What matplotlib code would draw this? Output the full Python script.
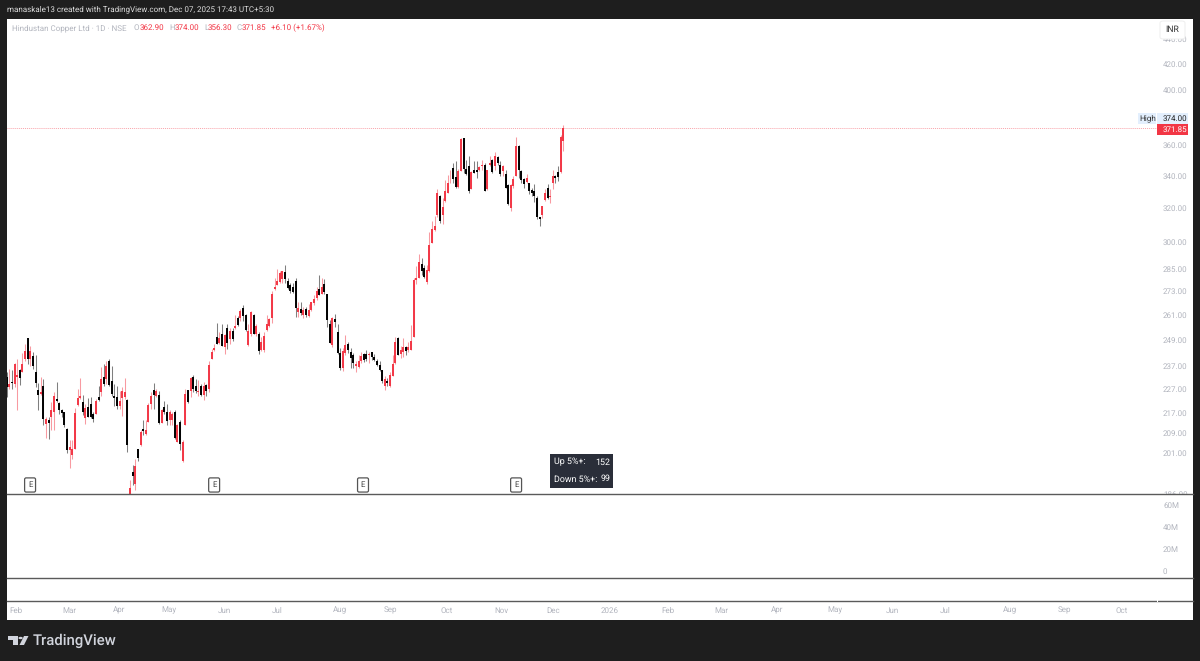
import numpy as np
import matplotlib
matplotlib.use("Agg")
import matplotlib.pyplot as plt
from matplotlib.patches import Rectangle, FancyBboxPatch, Polygon, Circle

plt.rcParams['font.family'] = ['Roboto', 'DejaVu Sans']
plt.rcParams['text.hinting'] = 'no_hinting'
plt.rcParams['text.hinting_factor'] = 8

opens = [232,227.7,230.1,229.1,232,235.4,234.5,240,249.8,240,241.5,234.5,226.7,224.7,228.4,212.4,213.8,215.1,217.2,222.7,221,
217.9,217.2,210.4,202,200.1,202.7,220.2,223.1,221.3,214.7,219.3,220.6,216.5,216.5,223.4,225.5,232,231.3,239.5,230.6,
224.1,223.7,219.6,223.1,223.4,222.4,182,194,189.7,202.4,204,210.4,208.3,213.1,220.6,226.7,224.1,224.4,212.9,219.3,
217.2,213.8,213.8,217.2,205.4,213.1,197.9,212,226.5,226.2,232,228,225.5,228,224.5,228.7,227,240.3,244.3,250.2,
247.5,251.8,245.5,254.8,249.5,253.4,254.8,259.8,259.8,264.3,260.9,246.7,251.8,260.9,251.8,251.8,244.3,244.3,253.7,255.5,
259.5,274.2,276.2,278,279.4,283.3,278.5,276.2,275.2,278.5,262.7,264,261.1,264,260.7,263.5,266.9,269.4,274.4,271.9,
276.7,271.6,256.5,246.7,258.9,253,242.9,236.1,242.9,247,243.3,242.1,236.8,236.4,239.4,242.4,242.4,241.8,243.3,241.2,
239.4,237.6,235.1,228.4,230.3,228.1,232.4,238.3,250.1,242.4,243.6,245.5,244.4,244.4,250.6,278.9,280.2,287.3,285.5,278,
283.6,299.3,306.9,315.4,327.1,315.4,324.1,329.2,338.2,344.9,339.2,332.7,342.7,365,344.2,346,331.6,343.8,343.4,343.4,
346,347.1,331.2,347.1,349.8,346,352.2,347.1,342.7,341.1,333.7,319.4,333.3,339.9,359.7,342.7,337.9,335.8,335,330.8,
330.2,326.1,314,315.4,324.5,332.2,326.5,335.4,339.6,342,342,362.9]
highs = [234.2,235.7,235.4,238.4,240.2,235.7,243,247,249.8,246,243.3,241.8,229.5,232,231.3,215.1,215.1,221.3,225.5,229.8,221.6,
218.6,217.4,210.7,205.9,205.9,218.8,227,231.6,224.5,220.6,223,223.7,217.2,222.7,228,236.4,238,239.5,240.2,237.2,
229.1,228.4,226.2,227.7,231.6,222.7,190.9,196.6,198.9,202.7,209.8,213.8,213.8,221,225.5,229.4,227,225.9,218.6,222,
220.6,218.2,217.2,217.9,212.4,213.8,205.9,227,226.7,232,233,231.3,231,229.1,229.8,229.1,239.5,244.8,247.2,257.1,
252.6,256.6,251.8,256.6,254.8,254.8,260.9,260.6,263.9,266,261.4,256.6,263.1,261.4,256.6,252.6,250.2,252.6,260.9,259.8,
273.3,280.2,285,283.7,283.7,286.8,280.2,277.6,277.6,280,267.7,267.7,265.2,265.2,266.4,267.7,271,275.3,281.5,279.8,
279.4,271.6,258.6,260.2,261.5,256.5,245.2,245.2,251.4,248.2,245.2,242.9,239.1,241.8,243.6,242.9,244.4,243.2,243.6,242.4,
240.3,239.4,235.4,232.4,231.7,234.3,241.8,250.6,250.6,246,250.1,246,248.2,256.2,280,286.5,293.2,291,286.8,286.8,
305.7,312,314.6,331.3,327.5,326.1,337,340,343.8,348.2,349.4,344.2,365,365,350.4,353.1,342.7,349.4,349.4,346,
350.4,347.8,343.8,352.7,350.9,355.4,352.7,349.4,347.1,343.8,334.3,334.3,339.6,365.6,360.3,343.8,338.6,341.1,335.4,332.2,
334.3,327.1,314.4,321.1,331.6,334.3,331.2,343.8,340.5,346,367.2,374]
lows = [223.4,227,227,227.7,218.2,228.7,234.2,239.5,238,237.2,235.7,227.7,217.9,224.4,211.8,206.7,206.5,209.8,209.8,221.3,216.5,
215.1,211.1,201.1,195.5,198.7,202.4,219.9,222.7,216.1,212.4,215.1,214.7,213.1,216.5,222,224.1,228.4,229.1,228,224.1,
219.9,218.6,218.6,215.8,222.7,201.4,180,189.2,187.4,197.9,203.6,207.8,208.1,213.1,218.6,218.3,223.4,212.4,212.9,216.5,
211.8,212,211.8,206.5,205.1,202,197.7,211.8,221,223.4,225.5,225.2,224.1,224.1,222.4,224.1,225.5,240,244,246.9,
247.2,246.4,242.5,244.8,247,248.6,254.2,255.9,258.2,258.2,253.4,246.4,251,251.8,251,242.5,244,243.5,253.4,255,
257,273.8,276.2,277.6,277.6,277.6,274.1,272.4,272,260.2,260.2,261.1,259.4,260.2,259.9,263,266,268.5,271,271.9,
271.9,255.4,247.5,245.5,255.4,242.4,235.4,234.6,242.1,242.9,236.1,236.1,234.3,236.1,238.3,238.8,239.1,238.3,239.9,239.1,
236.8,234.6,229.5,226.6,228.1,227.7,232.4,237.9,241.8,240.6,241.3,241.8,243.6,244.4,250.6,277,279.8,281.5,279.8,277,
283.2,299.3,306.3,314,311,310,323.1,329.2,335.4,335.4,332.2,332.2,342.7,341.6,340.5,329.2,331.2,341.6,338.6,342.7,
343.8,330.2,330.8,346,341.6,343.8,347.1,339.6,339.6,332.2,321.5,318,332.2,339.9,338.6,335.4,332.2,335.4,328.2,327.1,
323.5,313,309.2,313.4,324.1,325.1,322.5,331.6,335.4,336.3,341.6,356.3]
closes = [227.7,229.1,229.4,238,233,231.7,238,244,240,244,237.2,229.5,224.2,225.6,214.2,214.4,212.9,218,224.1,221.9,217.9,
216.9,212,202,203.3,202.4,216.9,223.1,223.8,217.2,218.9,215.1,215.1,214.4,222,222.3,231.3,229.1,237.2,228.7,224.8,
223.1,219.9,222,225.9,225.5,204,188,192.4,196.1,199.1,209.1,209.4,210,220.3,224.1,224.4,226.2,212.9,217.9,217.2,
213.4,217.2,216.5,206.7,211.8,204.3,205.1,224.8,221.6,231.6,227,225.9,226.2,224.4,228.4,225.9,237.5,243.2,245.1,247.2,
249.7,246.4,251.3,247.7,253.4,249.5,255.6,256.2,263.1,260.6,253.7,253.4,262.3,251.8,255.6,244,248.1,251,256.6,259,
271.6,275.5,278.5,282.9,283.7,279.4,275,273.3,272.8,264.3,264.7,261.9,263.5,261.1,263.5,267.4,269,273,271,275.3,
272.8,258.6,247.5,259.4,257.5,242.9,236.1,243.9,246.7,244.4,240.6,238.3,237.9,239.1,241.6,239.9,240.3,242.5,241.3,239.9,
237.6,235.4,230.3,231.4,229.5,233,237.9,247.9,242.1,244.4,245.5,243.9,245.5,248.6,279.2,279.8,288.7,283.6,280.6,284.1,
297.8,307.4,308.8,328.8,312,320.1,330.2,335.4,338.6,337.9,332.7,342.7,364.2,344.2,341.1,330.2,342,341.6,342,345.6,
347.1,330.2,343.4,348.2,342,352.7,348.2,340.7,346,332.2,322.1,333.7,337.9,359.7,343.4,337,334.3,338.6,330.2,328.8,
326.8,314,313,320.7,329.2,326.1,327.1,339.6,338.6,339.2,365.6,371.85]

price_ticks = [186, 201, 209, 217, 227, 237, 249, 261, 273, 285, 300, 320, 340, 360, 400, 420, 440]
volume_ticks = [0, 20, 40, 60]
volume_labels = ['0', '20M', '40M', '60M']
month_pos = [3.5, 23.7, 42.8, 61.8, 82.8, 102.9, 126.9, 146, 167.7, 188.3, 208, 229.8, 251.9, 272.1, 293.4, 315.5, 337.2, 357.4, 382.1, 402.7, 424.8]
month_labels = ['Feb','Mar','Apr','May','Jun','Jul','Aug','Sep','Oct','Nov','Dec','2026','Feb','Mar','Apr','May','Jun','Jul','Aug','Sep','Oct']
earnings_pos = [8.9, 79, 135.7, 194]
last_close = 371.85

W, H = 1200, 661
BG = '#1e1e1e'; RED = '#f23645'; GREY = '#b2b5be'; LINE = '#5a5a5a'
FS = 5.8
fig = plt.figure(figsize=(W/100, H/100), dpi=100, facecolor=BG)

def add_pane(top, bottom):
    return fig.add_axes([7/W, 1-bottom/H, (1193-7)/W, (bottom-top)/H], facecolor='white')

def rect(x0, y0, x1, y1, **kw):
    fig.patches.append(Rectangle((x0/W, 1-y1/H), (x1-x0)/W, (y1-y0)/H, transform=fig.transFigure, figure=fig, **kw))

def label(x, y, s, color='#555555', size=FS, ha='left', **kw):
    return fig.text(x/W, 1-y/H, s, color=color, fontsize=size, ha=ha, va='center', **kw)

XLIM = (0.11, 451.8)
ax = add_pane(18.5, 494)
vol = add_pane(494, 578)
pane3 = add_pane(578, 601)
tax = add_pane(601, 620)
for a in (ax, vol, pane3, tax):
    a.set_xlim(*XLIM)
    a.tick_params(length=0)
    a.set_xticks([])
    a.set_yticks([])
    for s in a.spines.values():
        s.set_linewidth(0)
for a in (vol, pane3, tax):
    a.spines['top'].set_linewidth(1.0)
    a.spines['top'].set_color(LINE)

ax.set_yscale('log')
ax.set_ylim(186.3, 457.7)

o, h, l, c = map(np.array, (opens, highs, lows, closes))
xs = np.arange(len(o))
colors = np.where(c >= o, RED, '#000000')
ax.vlines(xs, l, h, colors=colors, linewidth=0.75, alpha=0.5, capstyle='butt', zorder=2)
ax.vlines(xs, np.minimum(o, c), np.maximum(o, c), colors=colors, linewidth=1.4, capstyle='butt', zorder=3)
ax.axhline(last_close, xmax=0.9696, color=RED, linewidth=0.7, alpha=0.45, linestyle=(0, (1, 1)), zorder=1)

ax.set_yticks(price_ticks)
ax.set_yticklabels([f'{p:.2f}' for p in price_ticks])
ax.yaxis.tick_right()
ax.tick_params(axis='y', which='both', length=0, pad=-(1193-1163)*0.72, labelsize=FS, labelcolor=GREY)
ax.minorticks_off()
for t in ax.get_yticklabels():
    t.set_ha('left'); t.set_clip_on(True); t.set_clip_box(ax.bbox)

vol.set_ylim(-6.36, 70)
vol.set_yticks(volume_ticks)
vol.set_yticklabels(volume_labels)
vol.yaxis.tick_right()
vol.tick_params(axis='y', length=0, pad=-(1193-1163)*0.72, labelsize=FS, labelcolor=GREY)
for t in vol.get_yticklabels():
    t.set_ha('left')

tax.set_xticks(month_pos)
tax.set_xticklabels(month_labels)
tax.tick_params(axis='x', length=0, pad=-9.6, labelsize=FS, labelcolor=GREY)

# small gap in the time-axis rule under the price scale
rect(1156.5, 600, 1158, 602, facecolor='white', edgecolor='none', zorder=8)

# earnings markers
for e in earnings_pos:
    ax.annotate('E', (e, 0), xycoords=('data', 'axes fraction'), xytext=(0, 6.5), textcoords='offset points',
                ha='center', va='center', fontsize=5.6, color='#444444', zorder=6,
                bbox=dict(boxstyle='round,pad=0.42,rounding_size=0.2', fc='white', ec='#555555', lw=0.9))

# tooltip
rect(550, 454, 613, 488, facecolor='#2a2e39', edgecolor='none', zorder=8)
label(553.5, 462, 'Up 5%+:', color='white', size=6.4, zorder=9)
label(610, 462, '152', color='white', size=6.4, ha='right', zorder=9)
label(553.5, 479, 'Down 5%+:', color='white', size=6.4, zorder=9)
label(611, 479, '99', color='white', size=6.4, ha='right', zorder=9)

# price tags
rect(1138, 113, 1156, 124, facecolor='#e3effd', edgecolor='none', zorder=8)
rect(1157, 113, 1188, 124, facecolor='#e3effd', edgecolor='none', zorder=8)
rect(1157, 124, 1188, 135, facecolor=RED, edgecolor='none', zorder=8)
label(1139.5, 118.5, 'High', color='#333333', size=5.9, zorder=9)
label(1163, 118.5, '374.00', color='#222222', zorder=9)
label(1163, 129.5, '371.85', color='white', zorder=9)

# INR button
fig.patches.append(FancyBboxPatch((1160/W, 1-39/H), 25/W, 18/H, boxstyle='round,pad=0,rounding_size=0.003',
                                  transform=fig.transFigure, figure=fig, facecolor='white', edgecolor='#eeeeee', linewidth=0.7, zorder=8))
label(1172, 30, 'INR', color='#333333', size=6.2, ha='center', zorder=9)

# header
label(7, 9.5, 'manaskale13 created with TradingView.com, Dec 07, 2025 17:43 UTC+5:30', color='#dddddd')
label(12, 28, 'Hindustan Copper Ltd · 1D · NSE', color=GREY)
for x, s, col in [(134, 'O', GREY), (140, '362.90', RED), (169, 'H', GREY), (175, '374.00', RED), (204, 'L', GREY),
                  (207.5, '356.30', RED), (237, 'C', GREY), (242, '371.85', RED), (271, '+6.10 (+1.67%)', RED)]:
    label(x, 28, s, color=col)

# footer logo
LOGO = '#d1d4dc'
rect(8, 636, 17.5, 640, facecolor=LOGO, edgecolor='none')
rect(12.5, 636, 17.5, 645, facecolor=LOGO, edgecolor='none')
fig.patches.append(Circle((20.6/W, 1-638/H), 0.0018, transform=fig.transFigure, figure=fig, facecolor=LOGO, edgecolor='none'))
pts = [(24, 636), (28.5, 636), (24, 645), (19.5, 645)]
fig.patches.append(Polygon([(x/W, 1-y/H) for x, y in pts], closed=True, transform=fig.transFigure, figure=fig, facecolor=LOGO, edgecolor='none'))
label(33, 641, 'TradingView', color=LOGO, size=10.7, fontweight='medium')

fig.savefig('out.png', dpi=100, facecolor=BG)
